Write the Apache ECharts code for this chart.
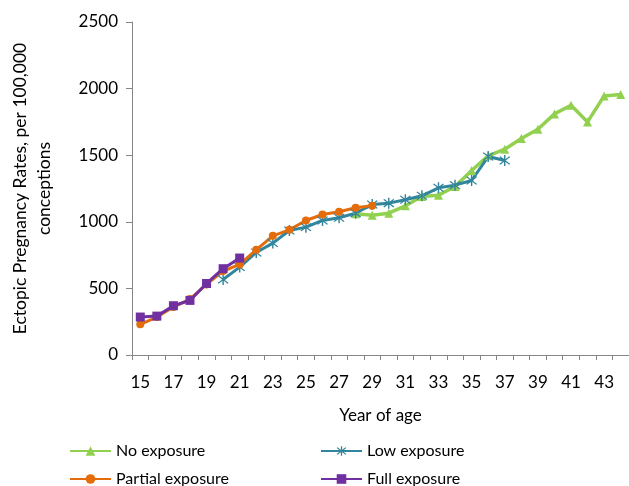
<!DOCTYPE html>
<html>
<head>
<meta charset="utf-8">
<script src="https://cdn.jsdelivr.net/npm/echarts@6/dist/echarts.min.js"></script>
<style>
  html, body { margin: 0; padding: 0; background: #fff; }
  #chart { width: 629px; height: 486px; }
</style>
</head>
<body>
<div id="chart"></div>
<script>
// ages 15..44
const ages = [];
for (let a = 15; a <= 44; a++) ages.push(String(a));

// values, each list starts at the given age
const noExposureStart = 28;
const noExposure = [1060, 1050, 1065, 1120, 1190, 1200, 1265, 1385, 1495, 1545, 1625, 1695, 1810, 1875, 1750, 1945, 1955];
const lowExposureStart = 20;
const lowExposure = [567, 660, 770, 840, 935, 960, 1010, 1030, 1065, 1130, 1140, 1165, 1195, 1255, 1275, 1310, 1490, 1460];
const partialExposureStart = 15;
const partialExposure = [230, 285, 360, 420, 530, 630, 680, 790, 895, 940, 1010, 1055, 1075, 1105, 1120];
const fullExposureStart = 15;
const fullExposure = [285, 292, 370, 410, 537, 648, 728];

function pad(start, vals) {
  return ages.map(a => {
    const i = Number(a) - start;
    return i >= 0 && i < vals.length ? vals[i] : null;
  });
}

// asterisk marker (vertical bar + two diagonals)
const starPath = "path://M-1,-10L1,-10L1,10L-1,10Z" +
  "M-6.3,-7.7L7.7,6.3L6.3,7.7L-7.7,-6.3Z" +
  "M6.3,-7.7L7.7,-6.3L-6.3,7.7L-7.7,6.3Z";

const font = "Lato, 'Open Sans', sans-serif";
const chart = echarts.init(document.getElementById("chart"));

// one legend block per item so the 2x2 layout stays put
function legendAt(name, left, top) {
  return {
    left: left, top: top, padding: 0,
    itemWidth: 41, itemHeight: 12,
    textStyle: { fontSize: 16, color: "#000", fontFamily: font },
    data: [name]
  };
}

const option = {
  animation: false,
  textStyle: { fontFamily: font },
  grid: { left: 130, right: -4, top: 22, bottom: 131 },
  legend: [
    legendAt("No exposure", 69, 443),
    legendAt("Low exposure", 320, 443),
    legendAt("Partial exposure", 69, 471),
    legendAt("Full exposure", 320, 471)
  ],
  xAxis: {
    type: "category",
    data: ages,
    name: "Year of age",
    nameLocation: "middle",
    nameGap: 52,
    nameTextStyle: { fontSize: 17, color: "#000" },
    axisLine: { lineStyle: { color: "#868686", width: 1 } },
    axisTick: { show: true, length: 5, interval: 0, lineStyle: { color: "#868686" } },
    axisLabel: { interval: 1, fontSize: 17, color: "#000", margin: 19 },
    splitLine: { show: false }
  },
  yAxis: {
    type: "value",
    min: 0, max: 2500, interval: 500,
    name: "Ectopic Pregnancy Rates, per 100,000\nconceptions",
    nameLocation: "middle",
    nameGap: 76,
    nameTextStyle: { fontSize: 17.5, color: "#000", lineHeight: 24 },
    axisLine: { show: true, lineStyle: { color: "#868686", width: 1 } },
    axisTick: { show: true, length: 6, lineStyle: { color: "#868686" } },
    axisLabel: { fontSize: 17, color: "#000", margin: 14, formatter: v => String(v) },
    splitLine: { show: false }
  },
  series: [
    {
      name: "No exposure", type: "line",
      data: pad(noExposureStart, noExposure),
      symbol: "triangle", symbolSize: 9,
      lineStyle: { width: 3.5, color: "#92D050" },
      itemStyle: { color: "#92D050" }
    },
    {
      name: "Low exposure", type: "line",
      data: pad(lowExposureStart, lowExposure),
      symbol: starPath, symbolSize: 11,
      lineStyle: { width: 3, color: "#31859C" },
      itemStyle: { color: "#31859C" }
    },
    {
      name: "Partial exposure", type: "line",
      data: pad(partialExposureStart, partialExposure),
      symbol: "circle", symbolSize: 8,
      lineStyle: { width: 3, color: "#E46C0A" },
      itemStyle: { color: "#E46C0A" }
    },
    {
      name: "Full exposure", type: "line",
      data: pad(fullExposureStart, fullExposure),
      symbol: "rect", symbolSize: 9,
      lineStyle: { width: 3, color: "#7030A0" },
      itemStyle: { color: "#7030A0" }
    }
  ]
};

chart.setOption(option);
</script>
</body>
</html>
